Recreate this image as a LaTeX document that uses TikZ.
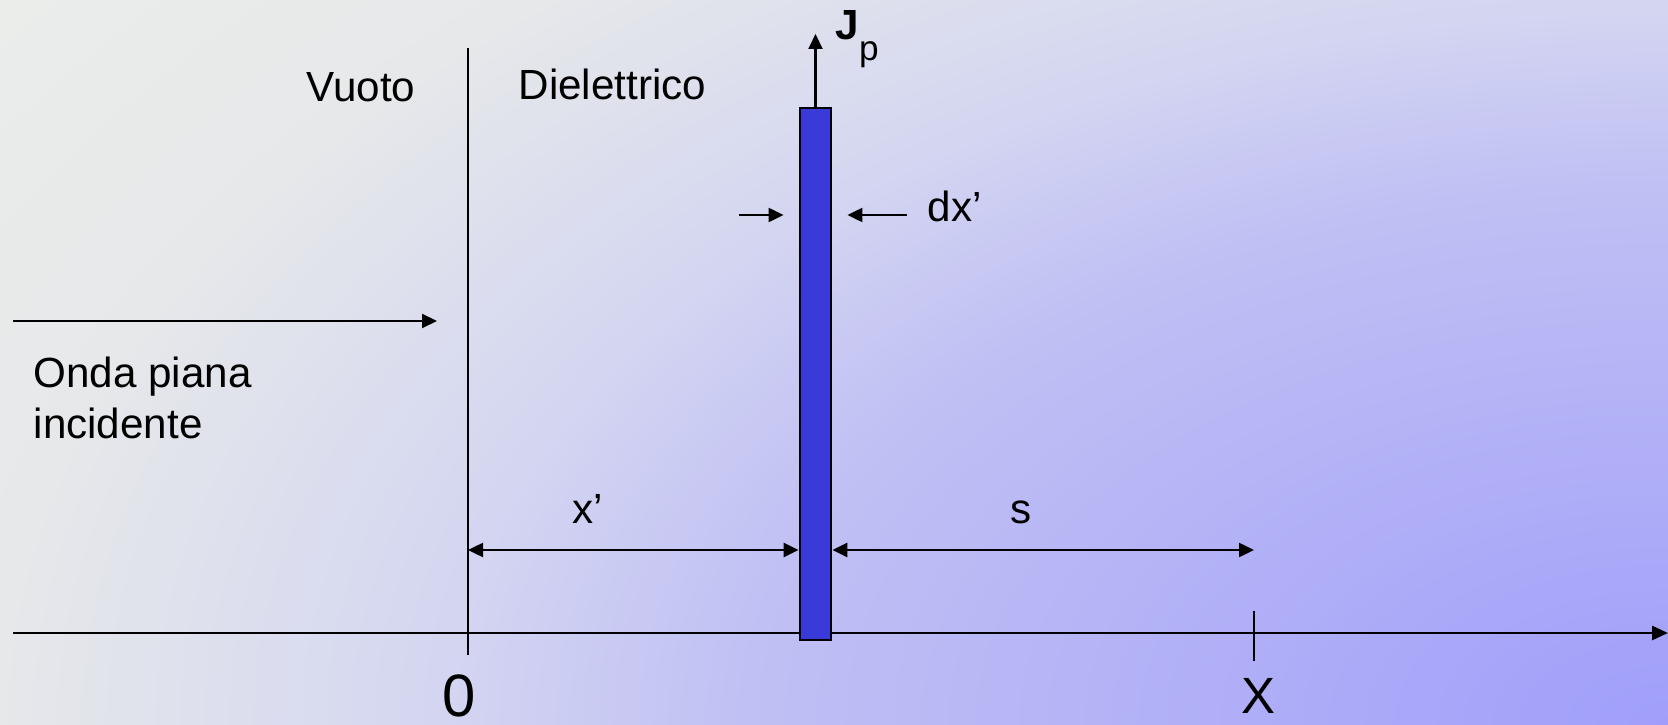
\documentclass[tikz,border=0pt]{standalone}
\usepackage{fontspec}
\setmainfont{Liberation Sans}
\usetikzlibrary{arrows.meta,calc,positioning}
\definecolor{Ink}{HTML}{000000}
\definecolor{Slab}{HTML}{3A3AD8}
\definecolor{BgA}{HTML}{A09EFA}
\definecolor{BgB}{HTML}{C0C0F4}
\definecolor{BgC}{HTML}{D4D6F1}
\definecolor{BgD}{HTML}{E6E8EA}
\definecolor{BgE}{HTML}{EBEDEB}
\pgfdeclareradialshading{bgfade}{\pgfpoint{0bp}{0bp}}{%
  color(0bp)=(BgA); color(10.5bp)=(BgB); color(14bp)=(BgC);
  color(19bp)=(BgD); color(23.5bp)=(BgE); color(50bp)=(BgE)}
\tikzset{
  lbl/.style={font=\fontsize{12}{14.5}\selectfont, text=Ink, inner sep=0pt},
  biglbl/.style={font=\fontsize{14.5}{17}\selectfont, text=Ink, inner sep=0pt},
  slab/.style={draw=Ink, line width=0.8pt, fill=Slab,
    minimum width=0.31cm, minimum height=5.32cm, inner sep=0pt},
  thinline/.style={draw=Ink, line width=0.6pt},
  axisline/.style={-{Triangle[length=1.6mm,width=1.4mm]}, line width=0.8pt, draw=Ink},
  flow/.style={-{Triangle[length=1.5mm,width=1.4mm]}, line width=0.6pt, draw=Ink},
  dimflow/.style={{Triangle[length=1.5mm,width=1.4mm]}-{Triangle[length=1.5mm,width=1.4mm]},
    line width=0.7pt, draw=Ink}
}
\begin{document}
\begin{tikzpicture}
  \useasboundingbox (0,0) rectangle (16.68,7.24);
  \begin{scope}
    \clip (0,0) rectangle (16.68,7.24);
    \shade[shading=bgfade] (16.68,0) ellipse (22 and 12.87);
  \end{scope}

  % axis and interface
  \coordinate (axStart) at (0.13,0.91);
  \coordinate (axEnd) at (16.68,0.91);
  \coordinate (wallTop) at (4.68,6.76);
  \coordinate (wallBot) at (4.68,0.69);
  \coordinate (xTop) at (12.54,1.13);
  \coordinate (xBot) at (12.54,0.63);
  \draw[axisline] (axStart) -- (axEnd);
  \draw[thinline] (wallTop) -- (wallBot);
  \draw[thinline] (xTop) -- (xBot);

  % slab of dielectric
  \node[slab] (layer) at (8.155,3.50) {};
  \coordinate (jTip) at (8.155,6.90);
  \draw[flow] (layer.north) -- (jTip);
  \node[lbl,anchor=base west] (jp) at (8.35,6.84)
    {\textbf{J}\raisebox{-0.9ex}{\fontsize{10}{12}\selectfont p}};

  % thickness dx'
  \coordinate (dxL) at (7.39,5.09);
  \coordinate (dxR) at (9.07,5.09);
  \draw[flow] (dxL) -- ([xshift=-0.15cm]layer.west |- dxL);
  \draw[flow] (dxR) -- ([xshift=0.15cm]layer.east |- dxR);
  \node[lbl,anchor=base west] (dxlbl) at (9.27,5.02) {dx’};

  % incident wave
  \coordinate (waveStart) at (0.13,4.03);
  \coordinate (waveEnd) at (4.37,4.03);
  \draw[flow] (waveStart) -- (waveEnd);
  \node[lbl,anchor=north west,align=left] (wave) at (0.33,3.68) {Onda piana\\incidente};

  \node[lbl,anchor=base] (vuoto) at (3.61,6.22) {Vuoto};
  \node[lbl,anchor=base west] (diel) at (5.18,6.24) {Dielettrico};

  % distances
  \coordinate (dimL) at (4.68,1.74);
  \draw[dimflow] (dimL) -- (layer.west |- dimL);
  \draw[dimflow] (layer.east |- dimL) -- (xTop |- dimL);
  \node[lbl,anchor=base] (xplbl) at (5.88,2.01) {x’};
  \node[lbl,anchor=base] (slbl) at (10.21,2.01) {s};

  \node[biglbl,anchor=base,font=\fontsize{17}{20}\selectfont] (zero) at (4.59,0.08) {0};
  \node[biglbl,anchor=base] (xlbl) at (12.58,0.11) {X};
\end{tikzpicture}
\end{document}
